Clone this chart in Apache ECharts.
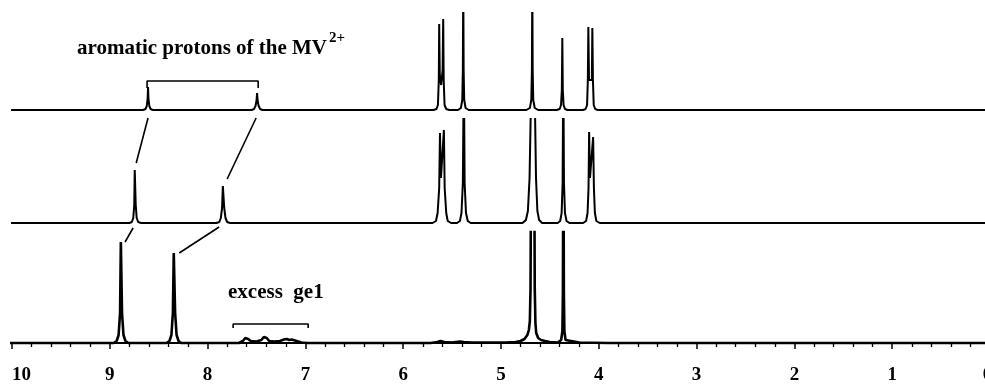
<!DOCTYPE html>
<html>
<head>
<meta charset="utf-8">
<script src="https://cdn.jsdelivr.net/npm/echarts@6/dist/echarts.min.js"></script>
<style>html,body{margin:0;padding:0;background:#fff;}#c{width:985px;height:390px;}</style>
</head>
<body>
<div id="c"></div>
<script>
// chemical shift axis (ppm), tick labels
const ppmMin = 0, ppmMax = 10, ppmStep = 1;

// Top trace: [ppm, intensity]
const topTrace = [
  [10.05,0],[8.66,0],[8.635,1],[8.622,4],[8.613,12],[8.609,23],[8.605,12],[8.596,4],[8.583,1],[8.56,0],
  [7.55,0],[7.525,1],[7.51,4],[7.499,10],[7.494,17],[7.489,10],[7.478,4],[7.463,1],[7.44,0],
  [5.69,0],[5.66,1],[5.645,5],[5.636,30],[5.632,86],[5.626,35],[5.612,25],[5.597,40],[5.591,91],[5.586,30],[5.577,5],[5.56,1],[5.53,0],
  [5.44,0],[5.41,2],[5.396,10],[5.39,40],[5.386,130],[5.382,40],[5.376,10],[5.362,2],[5.33,0],
  [4.74,0],[4.705,2],[4.69,10],[4.684,40],[4.680,130],[4.676,40],[4.67,10],[4.655,2],[4.62,0],
  [4.43,0],[4.40,1],[4.386,5],[4.378,20],[4.373,72],[4.368,20],[4.36,5],[4.346,1],[4.32,0],
  [4.16,0],[4.135,1],[4.12,5],[4.112,30],[4.107,83],[4.1,30],[4.086,30],[4.071,30],[4.066,82],[4.06,30],[4.052,5],[4.037,1],[4.01,0],
  [-0.05,0]
];

// Middle trace
const midTrace = [
  [10.05,0],[8.80,0],[8.775,1],[8.76,5],[8.75,18],[8.745,53],[8.74,53],[8.735,18],[8.725,5],[8.71,1],[8.68,0],
  [7.91,0],[7.88,1],[7.865,5],[7.852,15],[7.844,37],[7.838,37],[7.83,15],[7.817,5],[7.80,1],[7.77,0],
  [5.70,0],[5.665,2],[5.648,10],[5.632,35],[5.624,90],[5.614,45],[5.595,45],[5.584,93],[5.576,35],[5.560,10],[5.545,2],[5.51,0],
  [5.45,0],[5.42,2],[5.404,10],[5.39,40],[5.38,160],[5.372,40],[5.358,10],[5.34,2],[5.31,0],
  [4.78,0],[4.745,3],[4.725,12],[4.708,45],[4.696,110],[4.672,500],[4.652,110],[4.642,45],[4.628,12],[4.61,3],[4.58,0],
  [4.42,0],[4.395,2],[4.38,10],[4.37,40],[4.363,160],[4.356,40],[4.346,10],[4.33,2],[4.30,0],
  [4.16,0],[4.13,2],[4.115,10],[4.105,35],[4.099,91],[4.09,45],[4.07,45],[4.058,86],[4.05,35],[4.04,10],[4.025,2],[3.99,0],
  [-0.05,0]
];

// Bottom trace
const botTrace = [
  [10.05,0],[8.96,0],[8.93,2],[8.91,8],[8.895,30],[8.887,101],[8.883,101],[8.875,30],[8.86,8],[8.84,2],[8.81,0],
  [8.42,0],[8.39,2],[8.37,8],[8.355,30],[8.346,90],[8.341,90],[8.332,30],[8.317,8],[8.297,2],[8.27,0],
  [7.68,0],[7.64,2],[7.615,5],[7.60,6],[7.585,4],[7.56,2],[7.50,1.5],[7.45,3],[7.425,6],[7.41,7],[7.395,5],[7.37,2],[7.32,1.5],
  [7.26,2],[7.22,3.5],[7.19,4],[7.165,3],[7.14,3.5],[7.12,4],[7.09,2],[7.04,0.5],[6.98,0],
  [5.72,0],[5.65,1],[5.62,2],[5.58,1],[5.50,0.5],[5.42,1.5],[5.38,1],[5.30,0.5],
  [4.95,0.5],[4.85,1],[4.80,2],[4.76,4],[4.73,8],[4.715,13],[4.705,22],[4.698,55],[4.675,600],
  [4.655,55],[4.648,20],[4.64,10],[4.62,5],[4.59,3],[4.55,2],[4.50,1],[4.42,0.5],
  [4.40,0.5],[4.385,3],[4.372,12],[4.367,50],[4.362,220],[4.357,50],[4.352,12],[4.34,3],[4.32,1],[4.2,0.5],[3.9,0],
  [-0.05,0]
];

// Annotation lines (overlay frame: ppm, height above axis line)
const connectors = [
  [[8.609,237],[8.73,192]],
  [[7.504,237],[7.80,176]],
  [[8.762,127],[8.844,113]],
  [[7.882,128],[8.29,102]]
];
const aromaticBracket = [[8.619,267],[8.619,274],[7.483,274],[7.483,267]];
const gelBracket = [[7.739,27],[7.739,31],[6.972,31],[6.972,27]];

const titleMain = 'aromatic protons of the MV';
const titleSup = '2+';
const gelLabel = 'excess  ge1';

const chart = echarts.init(document.getElementById('c'), null, {renderer:'canvas'});
const FONT = 'Liberation Serif';
const L = 12, W = 978;

function xa(gi, show) {
  return {
    type:'value', gridIndex:gi, min:ppmMin, max:ppmMax, interval:ppmStep, inverse:true, show:show,
    axisLine:{show:true, lineStyle:{color:'#000', width:2}},
    axisTick:{show:true, length:6, lineStyle:{color:'#000', width:1.5}},
    minorTick:{show:true, splitNumber:5, length:4, lineStyle:{color:'#000', width:1.3}},
    splitLine:{show:false},
    axisLabel:{show:true, color:'#000', fontFamily:FONT, fontWeight:'bold', fontSize:19, margin:11,
      alignMaxLabel:'left', hideOverlap:false,
      formatter:function(v){ return v === ppmMin ? '{z|' + v + '}' : String(v); },
      rich:{z:{fontFamily:FONT, fontWeight:'bold', fontSize:19, color:'#000', padding:[0,5,0,0]}}}
  };
}
function ya(gi, mn, mx) {
  return {type:'value', gridIndex:gi, min:mn, max:mx, show:false, splitLine:{show:false}};
}
function ser(gi, data, w) {
  return {type:'line', xAxisIndex:gi, yAxisIndex:gi, data:data, showSymbol:false, symbol:'none',
    clip:true, lineStyle:{color:'#000', width:w}, silent:true, animation:false};
}

const series = [
  ser(0, topTrace, 2),
  ser(1, midTrace, 2),
  ser(2, botTrace, 2.6)
];
connectors.concat([aromaticBracket, gelBracket]).forEach(function(seg){
  series.push({type:'line', xAxisIndex:3, yAxisIndex:3, data:seg, showSymbol:false, symbol:'none',
    clip:false, lineStyle:{color:'#000', width:1.6}, silent:true, animation:false});
});

function g(top, height) {
  return {left:L, width:W, top:top, height:height, containLabel:false, outerBoundsMode:'none'};
}

chart.setOption({
  backgroundColor:'#fff',
  animation:false,
  grid:[g(13,102), g(119,109), g(232,123), g(0,355)],
  xAxis:[xa(0,false), xa(1,false), xa(2,true), xa(3,false)],
  yAxis:[ya(0,-5,97), ya(1,-5,104), ya(2,-12,111), ya(3,0,355)],
  series:series,
  graphic:[
    {type:'text', left:77, top:31, silent:true,
      style:{text:'{n|'+titleMain+'}{s|'+titleSup+'}', rich:{
        n:{fontFamily:FONT, fontWeight:'bold', fontSize:21, fill:'#000', lineHeight:28, verticalAlign:'bottom'},
        s:{fontFamily:FONT, fontWeight:'bold', fontSize:15, fill:'#000', verticalAlign:'top', lineHeight:16, padding:[0,0,0,2]}
      }}},
    {type:'text', left:228, top:282, silent:true,
      style:{text:gelLabel, fontFamily:FONT, fontWeight:'bold', fontSize:21, fill:'#000'}}
  ]
});
</script>
</body>
</html>
